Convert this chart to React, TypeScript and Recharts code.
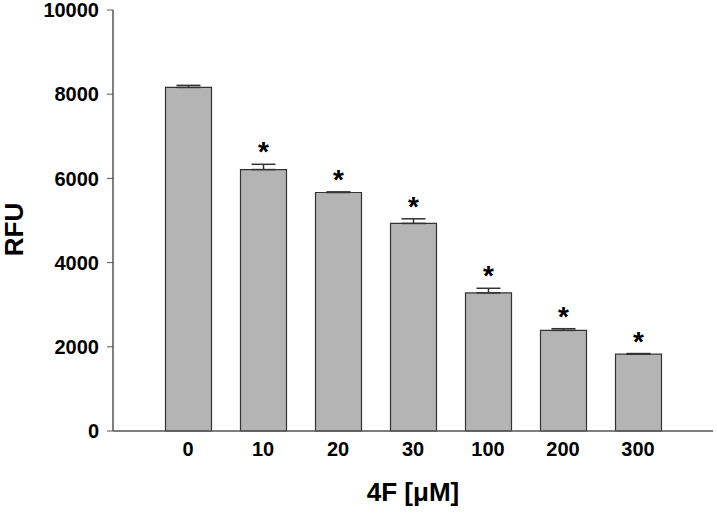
import React from "react";
import { BarChart, Bar, XAxis, YAxis, ErrorBar, LabelList, Label } from "recharts";

const categories = ["0", "10", "20", "30", "100", "200", "300"];
const rfu = [8160, 6210, 5665, 4930, 3280, 2390, 1825];
const errors = [50, 125, 15, 110, 110, 40, 15];
const marks = ["", "*", "*", "*", "*", "*", "*"];
const yTicks = [0, 2000, 4000, 6000, 8000, 10000];

const data = categories.map((c, i) => ({
  dose: c,
  rfu: rfu[i],
  err: [0, errors[i]],
  mark: marks[i],
}));

const FONT = "'Liberation Sans', Arial, sans-serif";
const AXIS = "#555555";

const StarLabel = (props: any) => {
  const { x, y, width, height, value, index } = props;
  if (!value) return null;
  const v = rfu[index];
  const scale = height / v;
  const top = y - errors[index] * scale;
  return (
    <text
      x={x + width / 2}
      y={top - 3}
      textAnchor="middle"
      fontFamily={FONT}
      fontWeight="bold"
      fontSize={28}
      fill="#000"
    >
      {value}
    </text>
  );
};

const XTitle = (props: any) => {
  const vb = props.viewBox;
  return (
    <text
      x={vb.x + vb.width / 2}
      y={vb.y + 70}
      textAnchor="middle"
      fontFamily={FONT}
      fontWeight="bold"
      fontSize={26}
      fill="#000"
    >
      4F [μM]
    </text>
  );
};

const YTitle = (props: any) => {
  const vb = props.viewBox;
  const cx = 23;
  const cy = vb.y + vb.height / 2 + 9;
  return (
    <text
      x={cx}
      y={cy}
      transform={`rotate(-90 ${cx} ${cy})`}
      textAnchor="middle"
      fontFamily={FONT}
      fontWeight="bold"
      fontSize={26}
      fill="#000"
    >
      RFU
    </text>
  );
};

export default function App() {
  return (
    <div style={{ position: "absolute", left: 0, top: 0, background: "#fff" }}>
      <BarChart
        width={717}
        height={513}
        data={data}
        margin={{ top: 10, right: 4, bottom: 0, left: 0 }}
        barCategoryGap={0}
      >
        <XAxis
          dataKey="dose"
          xAxisId={0}
          height={82}
          padding={{ left: 37.5, right: 37.5 }}
          tickLine={false}
          axisLine={{ stroke: AXIS, strokeWidth: 1.5 }}
          tick={{ fontFamily: FONT, fontWeight: "bold", fontSize: 20, fill: "#000" }}
          tickMargin={5}
          interval={0}
        >
          <Label content={XTitle} />
        </XAxis>
        <XAxis
          xAxisId="top"
          orientation="top"
          dataKey="dose"
          height={0}
          tick={false}
          tickLine={false}
          axisLine={{ stroke: AXIS, strokeWidth: 1.5 }}
        />
        <YAxis
          yAxisId={0}
          width={113}
          domain={[0, 10000]}
          ticks={yTicks}
          interval={0}
          tickSize={6}
          tickLine={{ stroke: AXIS }}
          axisLine={{ stroke: AXIS, strokeWidth: 1.5 }}
          tick={{ fontFamily: FONT, fontWeight: "bold", fontSize: 20, fill: "#000" }}
          tickMargin={8}
        >
          <Label content={YTitle} />
        </YAxis>
        <YAxis
          yAxisId="right"
          orientation="right"
          width={0}
          domain={[0, 10000]}
          tick={false}
          tickLine={false}
          axisLine={{ stroke: AXIS, strokeWidth: 1.5 }}
        />
        <Bar
          dataKey="rfu"
          xAxisId={0}
          yAxisId={0}
          barSize={46}
          fill="#b4b4b4"
          stroke="#333333"
          strokeWidth={1.2}
          isAnimationActive={false}
        >
          <ErrorBar dataKey="err" width={12} stroke="#333333" strokeWidth={1.5} direction="y" />
          <LabelList dataKey="mark" content={StarLabel} />
        </Bar>
      </BarChart>
    </div>
  );
}
